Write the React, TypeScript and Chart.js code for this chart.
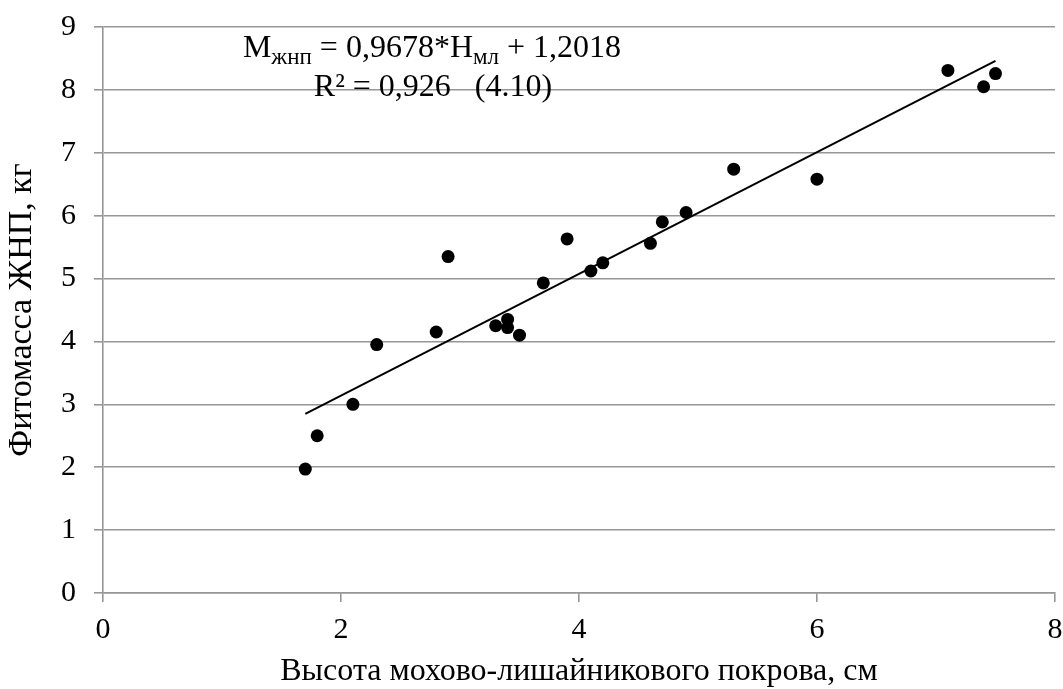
import { useEffect, useRef } from "react";
import { Chart, registerables } from "chart.js";

Chart.register(...registerables);

// Moss-lichen cover height (cm) and phytomass (kg) of the sample plots
const heightCm = [1.7, 1.8, 2.1, 2.3, 2.8, 2.9, 3.3, 3.4, 3.4, 3.5, 3.7, 3.9, 4.1, 4.2, 4.6, 4.7, 4.9, 5.3, 6.0, 7.1, 7.4, 7.5];
const phytomassKg = [1.97, 2.5, 3.0, 3.95, 4.15, 5.35, 4.25, 4.35, 4.22, 4.1, 4.93, 5.63, 5.12, 5.25, 5.56, 5.9, 6.05, 6.74, 6.58, 8.31, 8.05, 8.26];

// Linear regression M = a*H + b
const slope = 0.9678;
const intercept = 1.2018;
const trendRange = [1.7, 7.5];

const xTicks = [0, 2, 4, 6, 8];
const yTicks = [0, 1, 2, 3, 4, 5, 6, 7, 8, 9];

const xTitle = "Высота мохово-лишайникового покрова, см";
const yTitle = "Фитомасса ЖНП, кг";
const eqLine2 = "R² = 0,926   (4.10)";

const SERIF = '"Liberation Serif", "Times New Roman", serif';
const GRID = "#969696";

// Regression equation with subscripts, drawn above the plot
const equationPlugin = {
  id: "equationLabel",
  afterDraw(chart: any) {
    const { ctx, chartArea } = chart;
    const parts: [string, boolean][] = [
      ["M", false],
      ["жнп", true],
      [" = 0,9678*H", false],
      ["мл", true],
      [" + 1,2018", false],
    ];
    const mainFont = `32px ${SERIF}`;
    const subFont = `23px ${SERIF}`;
    ctx.save();
    ctx.fillStyle = "#000";
    ctx.textBaseline = "alphabetic";
    ctx.textAlign = "left";
    let total = 0;
    for (const [t, sub] of parts) {
      ctx.font = sub ? subFont : mainFont;
      total += ctx.measureText(t).width;
    }
    const cx = chartArea.left + 329;
    const y1 = chartArea.top + 30;
    let x = cx - total / 2;
    for (const [t, sub] of parts) {
      ctx.font = sub ? subFont : mainFont;
      ctx.fillText(t, x, sub ? y1 + 7 : y1);
      x += ctx.measureText(t).width;
    }
    ctx.font = mainFont;
    ctx.textAlign = "center";
    ctx.fillText(eqLine2, cx + 1, chartArea.top + 69);
    ctx.restore();
  },
};

export default function App() {
  const canvasRef = useRef<HTMLCanvasElement | null>(null);

  useEffect(() => {
    document.body.style.margin = "0";
    const canvas = canvasRef.current;
    if (!canvas) return;

    const points = heightCm.map((h, i) => ({ x: h, y: phytomassKg[i] }));
    const trend = trendRange.map((h) => ({ x: h, y: slope * h + intercept }));

    const chart = new Chart(canvas, {
      type: "scatter",
      data: {
        datasets: [
          {
            type: "line",
            data: trend,
            borderColor: "#000",
            borderWidth: 2,
            pointRadius: 0,
            fill: false,
            order: 2,
          } as any,
          {
            type: "scatter",
            data: points,
            backgroundColor: "#000",
            borderColor: "#000",
            borderWidth: 0,
            pointRadius: 6.5,
            order: 1,
          },
        ],
      },
      options: {
        responsive: false,
        animation: false,
        layout: { padding: { top: 27, right: 8, left: 0, bottom: 0 } },
        plugins: {
          legend: { display: false },
          tooltip: { enabled: false },
        },
        scales: {
          x: {
            type: "linear",
            min: xTicks[0],
            max: xTicks[xTicks.length - 1],
            afterBuildTicks: (s: any) => {
              s.ticks = xTicks.map((v) => ({ value: v }));
            },
            afterFit: (s: any) => {
              s.height = 96;
              s.paddingLeft = 0;
              s.paddingRight = 0;
              s.paddingTop = 0;
              s.paddingBottom = 0;
            },
            ticks: {
              color: "#000",
              font: { family: SERIF, size: 30 },
              padding: 10,
              maxRotation: 0,
            },
            grid: {
              drawOnChartArea: false,
              drawTicks: true,
              tickLength: 9,
              color: GRID,
              lineWidth: 1.6,
            },
            border: { display: true, color: GRID, width: 1.6 },
            title: {
              display: true,
              text: xTitle,
              color: "#000",
              font: { family: SERIF, size: 32 },
              padding: { top: 0, bottom: -2 },
            },
          },
          y: {
            type: "linear",
            min: yTicks[0],
            max: yTicks[yTicks.length - 1],
            afterBuildTicks: (s: any) => {
              s.ticks = yTicks.map((v) => ({ value: v }));
            },
            afterFit: (s: any) => {
              s.width = 103;
              s.paddingLeft = 0;
              s.paddingRight = 0;
              s.paddingTop = 0;
              s.paddingBottom = 0;
            },
            ticks: {
              color: "#000",
              font: { family: SERIF, size: 30 },
              padding: 18,
            },
            grid: {
              drawOnChartArea: true,
              drawTicks: true,
              tickLength: 9,
              color: GRID,
              lineWidth: 1.6,
            },
            border: { display: true, color: GRID, width: 1.6 },
            title: {
              display: true,
              text: yTitle,
              color: "#000",
              font: { family: SERIF, size: 34 },
              padding: { top: 2, bottom: 0 },
            },
          },
        },
      },
      plugins: [equationPlugin],
    });

    return () => chart.destroy();
  }, []);

  return (
    <canvas
      ref={canvasRef}
      width={1063}
      height={689}
      style={{ display: "block", width: 1063, height: 689 }}
    />
  );
}
